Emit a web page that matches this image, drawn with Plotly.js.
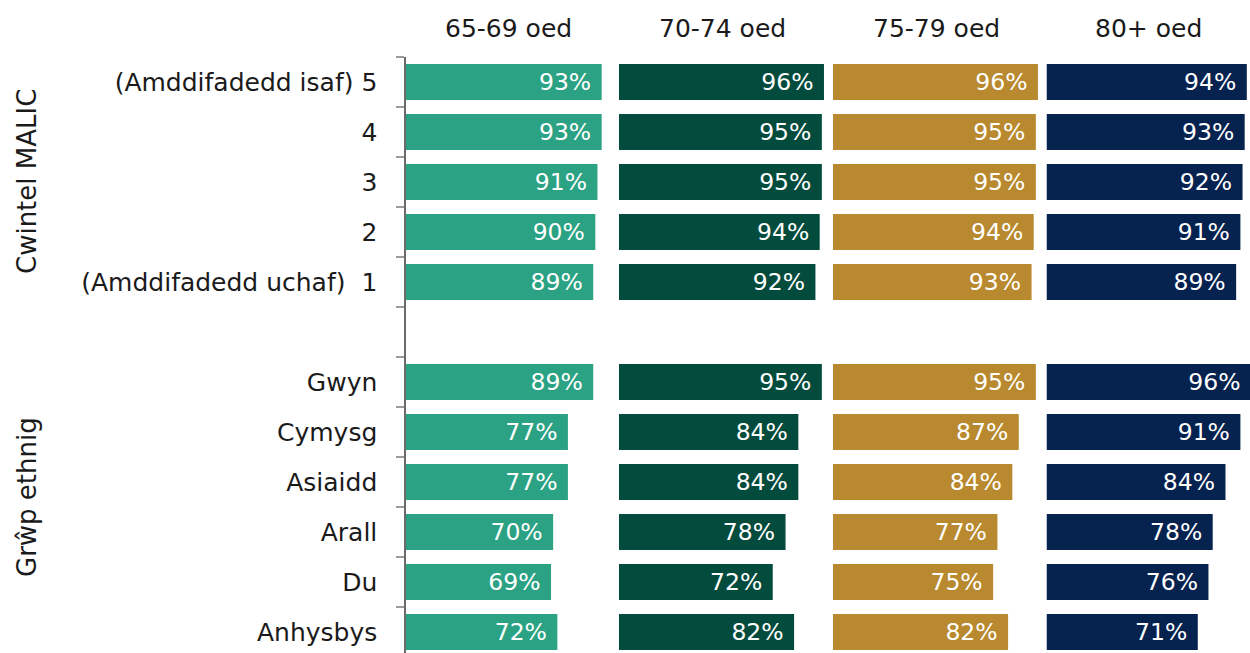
<!DOCTYPE html>
<html>
<head>
<meta charset="utf-8">
<script src="https://cdn.plot.ly/plotly-3.0.1.min.js"></script>
<style>html,body{margin:0;padding:0;background:#fff;}#chart{width:1250px;height:653px;}</style>
</head>
<body>
<div id="chart"></div>
<script>
// ---- Data ----
const categories = [
  "(Amddifadedd isaf) 5", "4", "3", "2", "(Amddifadedd uchaf)\u00a0\u00a01", " ",
  "Gwyn", "Cymysg", "Asiaidd", "Arall", "Du", "Anhysbys"
];
const panelTitles = ["65-69 oed", "70-74 oed", "75-79 oed", "80+ oed"];
const age6569 = [93, 93, 91, 90, 89, null, 89, 77, 77, 70, 69, 72];
const age7074 = [96, 95, 95, 94, 92, null, 95, 84, 84, 78, 72, 82];
const age7579 = [96, 95, 95, 94, 93, null, 95, 87, 84, 77, 75, 82];
const age80   = [94, 93, 92, 91, 89, null, 96, 91, 84, 78, 76, 71];
const groupLabels = ["Cwintel MALIC", "Grŵp ethnig"];

// ---- Style ----
const FONT = "DejaVu Sans";
const colors = ["#2ba283", "#034b3c", "#b8892e", "#06224f"];
const series = [age6569, age7074, age7579, age80];
const W = 1250;
const domains = [
  [405.5 / W, 612 / W],
  [619 / W, 826 / W],
  [833 / W, 1040 / W],
  [1046.5 / W, 1]
];
const ranges = [97.9, 96.95, 96.95, 95.5];

const traces = series.map((vals, i) => ({
  type: "bar",
  orientation: "h",
  y: categories,
  x: vals,
  xaxis: i === 0 ? "x" : "x" + (i + 1),
  yaxis: "y",
  marker: { color: colors[i], line: { width: 0 } },
  texttemplate: "%{x:.0f}%\u00a0",
  textposition: "inside",
  insidetextanchor: "end",
  constraintext: "none",
  textfont: { family: FONT, size: 23.5, color: "#ffffff" },
  hoverinfo: "skip",
  showlegend: false
}));

const layout = {
  width: 1250,
  height: 653,
  margin: { l: 0, r: 0, t: 57, b: 0 },
  paper_bgcolor: "#ffffff",
  plot_bgcolor: "#ffffff",
  bargap: 0.28,
  showlegend: false,
  font: { family: FONT, color: "#1a1a1a" },
  yaxis: {
    type: "category",
    categoryorder: "array",
    categoryarray: categories,
    range: [11.42, -0.5],
    showline: true,
    linecolor: "#6a6a6a",
    linewidth: 1.2,
    ticks: "outside",
    tickson: "boundaries",
    ticklen: 8,
    tickwidth: 1.5,
    tickcolor: "#9a9a9a",
    ticklabelstandoff: 22,
    tickfont: { family: FONT, size: 25, color: "#1a1a1a" },
    showgrid: false,
    zeroline: false,
    fixedrange: true
  },
  annotations: []
};

domains.forEach((d, i) => {
  const key = i === 0 ? "xaxis" : "xaxis" + (i + 1);
  layout[key] = {
    domain: d,
    range: [0, ranges[i]],
    anchor: "y",
    visible: false,
    showgrid: false,
    zeroline: false,
    fixedrange: true
  };
  layout.annotations.push({
    text: panelTitles[i],
    xref: (i === 0 ? "x" : "x" + (i + 1)) + " domain",
    x: 0.5,
    yref: "paper",
    y: 1 + 28 / 596,
    xanchor: "center",
    yanchor: "middle",
    showarrow: false,
    font: { family: FONT, size: 25, color: "#1a1a1a" }
  });
});

[[groupLabels[0], 2], [groupLabels[1], 8.3]].forEach(([t, yy]) => {
  layout.annotations.push({
    text: t,
    textangle: -90,
    xref: "paper",
    x: 27 / W,
    yref: "y",
    y: yy,
    xanchor: "center",
    yanchor: "middle",
    showarrow: false,
    font: { family: FONT, size: 26, color: "#1a1a1a" }
  });
});

Plotly.newPlot("chart", traces, layout, { displayModeBar: false, staticPlot: true });
</script>
</body>
</html>
